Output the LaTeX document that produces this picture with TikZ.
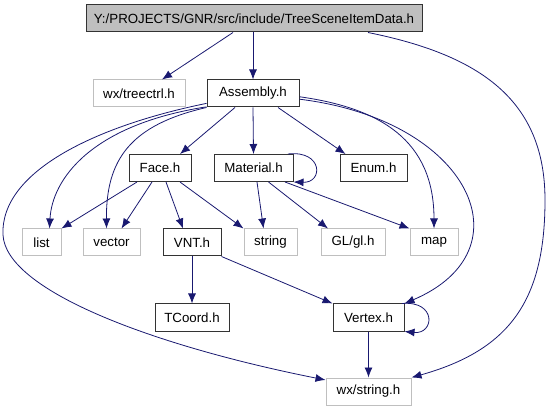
\documentclass[tikz,border=0pt]{standalone}
\usepackage{fontspec}
\setmainfont{Liberation Sans}
\usetikzlibrary{arrows.meta}
\definecolor{edgeblue}{HTML}{191970}
\definecolor{boxgray}{HTML}{BFBFBF}
\begin{document}
\begin{tikzpicture}[x=1pt,y=-1pt,every node/.style={inner sep=1pt,font=\fontsize{13.3}{16}\selectfont}]
\tikzstyle{hdr}=[draw=black!80,line width=1pt,minimum height=27pt,inner xsep=6pt]
\tikzstyle{sys}=[draw=boxgray,line width=1pt,minimum height=27pt,inner xsep=6pt]
\tikzstyle{incl}=[draw=edgeblue,line width=0.8pt,-{Latex[length=10pt,width=8pt]}]
\useasboundingbox (0,0) rectangle (551,411);

\node[hdr,fill=boxgray,minimum width=336pt](root) at (254,18.5){Y:/PROJECTS/GNR/src/include/TreeSceneItemData.h};

\node[sys,minimum width=92pt](treectrl) at (139,93.5){wx/treectrl.h};
\node[hdr,minimum width=92pt](assembly) at (253,93.5){Assembly.h};

\node[hdr,minimum width=62pt](face) at (160,168){Face.h};
\node[hdr,minimum width=79pt](material) at (253.5,168){Material.h};
\node[hdr,minimum width=67pt](enum) at (373.5,168){Enum.h};

\node[sys,minimum width=39pt](list) at (41.5,242.5){list};
\node[sys,minimum width=57pt](vector) at (111.5,242.5){vector};
\node[hdr,minimum width=58pt](vnt) at (192,242.5){VNT.h};
\node[sys,minimum width=53pt](string) at (270.5,242.5){string};
\node[sys,minimum width=64pt](gl) at (353,242.5){GL/gl.h};
\node[sys,minimum width=48pt](map) at (434,242.5){map};

\node[hdr,minimum width=74pt](tcoord) at (192,317.5){TCoord.h};
\node[hdr,minimum width=71pt](vertex) at (368.5,317.5){Vertex.h};

\node[sys,minimum width=85pt](wxstring) at (368.5,391.5){wx/string.h};

% TreeSceneItemData.h
\path[incl] ([xshift=-21pt]root.south) -- ([xshift=23pt]treectrl.north);
\path[incl] (root.south -| assembly.north) -- (assembly.north);
\path[incl] ([xshift=114pt]root.south) .. controls (480,55) and (545,100) .. (545,200)
  .. controls (545,300) and (510,350) .. (wxstring.north east);

% Assembly.h
\path[incl] ([xshift=-18pt]assembly.south) -- ([xshift=20pt]face.north);
\path[incl] (assembly.south) -- (material.north);
\path[incl] ([xshift=25pt]assembly.south) -- ([xshift=-28pt]enum.north);
\path[incl] (assembly.196) .. controls (90,125) and (52,180) .. ([xshift=8pt]list.north);
\path[incl] (assembly.south west) .. controls (130,125) and (106,160) .. ([xshift=-5pt]vector.north);
\path[incl] (assembly.192) .. controls (100,125) and (0,170) .. (3,235)
  .. controls (6,290) and (150,345) .. (wxstring.165);
\path[incl] (assembly.-4) .. controls (380,108) and (434,140) .. (map.north);
\path[incl] (assembly.-7) .. controls (470,120) and (530,250) .. (vertex.north east);

% Face.h
\path[incl] ([xshift=-23pt]face.south) -- (list.north east);
\path[incl] ([xshift=-8pt]face.south) -- ([xshift=10pt]vector.north);
\path[incl] ([xshift=6pt]face.south) -- ([xshift=-9pt]vnt.north);
\path[incl] ([xshift=20pt]face.south) -- (string.north west);

% Material.h
\path[incl] ([xshift=34.5pt]material.north) .. controls +(35,-4) and +(30,1) .. (material.south east);
\path[incl] ([xshift=3.5pt]material.south) -- ([xshift=-7pt]string.north);
\path[incl] ([xshift=15pt]material.south) -- ([xshift=-25pt]gl.north);
\path[incl] ([xshift=31.5pt]material.south) -- (map.north west);

% VNT.h
\path[incl] (vnt.south) -- (tcoord.north);
\path[incl] (vnt.south east) -- (vertex.north west);

% Vertex.h
\path[incl] ([xshift=33.5pt]vertex.north) .. controls +(35,-3) and +(30,3) .. (vertex.south east);
\path[incl] (vertex.south) -- (wxstring.north);
\end{tikzpicture}
\end{document}
